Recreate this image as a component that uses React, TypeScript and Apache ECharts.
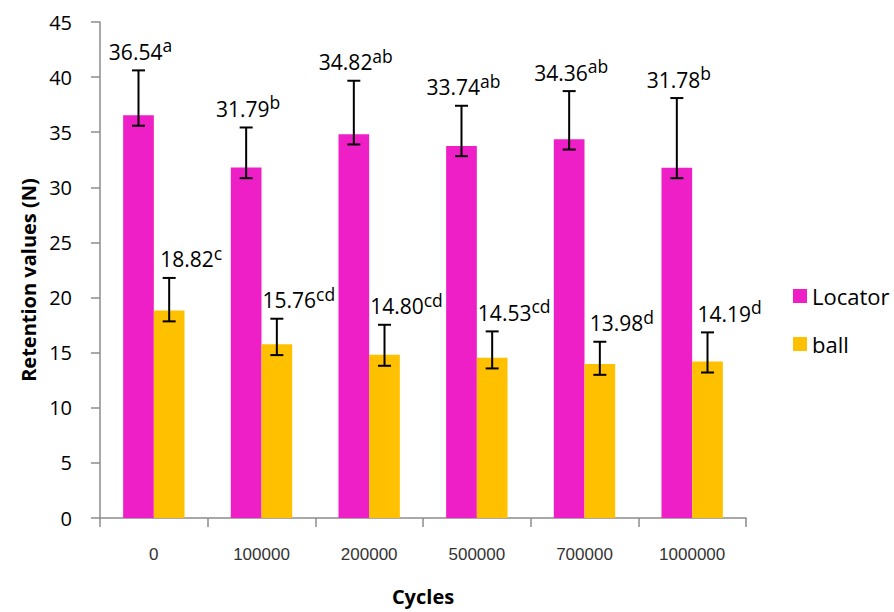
import React, { useEffect, useRef } from "react";
import * as echarts from "echarts";

const categories = ["0", "100000", "200000", "500000", "700000", "1000000"];
const locatorValues = [36.54, 31.79, 34.82, 33.74, 34.36, 31.78];
const ballValues = [18.82, 15.76, 14.8, 14.53, 13.98, 14.19];
const locatorHigh = [40.61, 35.43, 39.67, 37.4, 38.73, 38.1];
const locatorLow = [35.59, 30.83, 33.89, 32.83, 33.43, 30.83];
const ballHigh = [21.78, 18.08, 17.53, 16.93, 15.99, 16.84];
const ballLow = [17.84, 14.78, 13.81, 13.57, 12.99, 13.2];
const locatorLetters = ["a", "b", "ab", "ab", "ab", "b"];
const ballLetters = ["c", "cd", "cd", "cd", "d", "d"];
const yTicks = { min: 0, max: 45, interval: 5 };

const LOCATOR_COLOR = "#EE1FC6";
const BALL_COLOR = "#FFC000";
const BAR_FRAC = 0.285;
const LABEL_FONT = "Open Sans";

function errorSeries(
  high: number[],
  low: number[],
  values: number[],
  letters: string[],
  side: number,
  dx: number
) {
  return {
    type: "custom",
    name: "err" + side,
    z: 10,
    silent: true,
    data: categories.map((_, i) => [i, high[i], low[i], values[i], letters[i]]),
    renderItem: (params: any, api: any) => {
      const i = api.value(0);
      const top = api.coord([i, api.value(1)]);
      const bot = api.coord([i, api.value(2)]);
      const band = api.size([1, 0])[0];
      const bw = band * BAR_FRAC;
      const x = top[0] + (side * bw) / 2;
      const cap = 6.5;
      const st = { stroke: "#000", lineWidth: 2 };
      const idx = params.dataIndex;
      const txt = `{v|${values[idx].toFixed(2)}}{s|${letters[idx]}}`;
      return {
        type: "group",
        children: [
          { type: "line", shape: { x1: x, y1: top[1], x2: x, y2: bot[1] }, style: st },
          { type: "line", shape: { x1: x - cap, y1: top[1], x2: x + cap, y2: top[1] }, style: st },
          { type: "line", shape: { x1: x - cap, y1: bot[1], x2: x + cap, y2: bot[1] }, style: st },
          {
            type: "text",
            x: x + dx,
            y: top[1] - 21,
            style: {
              text: txt,
              align: "center",
              verticalAlign: "middle",
              fill: "#000",
              rich: {
                v: { fontSize: 21, fontFamily: LABEL_FONT, fill: "#000", lineHeight: 26, verticalAlign: "bottom" },
                s: { fontSize: 17.5, fontFamily: LABEL_FONT, fill: "#000", lineHeight: 4, verticalAlign: "top" },
              },
            },
          },
        ],
      };
    },
  };
}

export default function App() {
  const ref = useRef<HTMLDivElement>(null);
  useEffect(() => {
    if (!ref.current) return;
    const chart = echarts.init(ref.current, null, { renderer: "svg" });
    chart.setOption({
      animation: false,
      backgroundColor: "#fff",
      grid: { left: 100, right: 148, top: 22, bottom: 94 },
      legend: {
        data: ["Locator", "ball"],
        orient: "vertical",
        left: 788,
        top: 279,
        icon: "rect",
        itemWidth: 14,
        itemHeight: 14,
        itemGap: 24,
        textStyle: { fontFamily: LABEL_FONT, fontSize: 22, color: "#000", lineHeight: 24 },
      },
      xAxis: {
        type: "category",
        data: categories,
        name: "Cycles",
        nameLocation: "middle",
        nameGap: 68,
        nameTextStyle: { fontFamily: LABEL_FONT, fontSize: 20, fontWeight: "bold", color: "#000" },
        axisLine: { lineStyle: { color: "#8c8c8c", width: 1.5 } },
        axisTick: { show: true, length: 9, alignWithLabel: false, lineStyle: { color: "#8c8c8c", width: 1.5 } },
        axisLabel: { fontFamily: "Liberation Sans", fontSize: 17, color: "#333", margin: 28 },
      },
      yAxis: {
        type: "value",
        min: yTicks.min,
        max: yTicks.max,
        interval: yTicks.interval,
        name: "Retention values (N)",
        nameLocation: "middle",
        nameGap: 62,
        nameTextStyle: {
          fontFamily: LABEL_FONT,
          fontSize: 20,
          fontWeight: "bold",
          color: "#000",
          padding: [0, 20, 0, 0],
        },
        axisLine: { show: true, lineStyle: { color: "#8c8c8c", width: 1.5 } },
        axisTick: { show: true, length: 9, lineStyle: { color: "#8c8c8c", width: 1.5 } },
        axisLabel: { fontFamily: LABEL_FONT, fontSize: 20, color: "#000", margin: 28 },
        splitLine: { show: false },
      },
      series: [
        {
          type: "bar",
          name: "Locator",
          data: locatorValues,
          barWidth: BAR_FRAC * 100 + "%",
          barGap: "0%",
          itemStyle: { color: LOCATOR_COLOR },
        },
        {
          type: "bar",
          name: "ball",
          data: ballValues,
          barWidth: BAR_FRAC * 100 + "%",
          barGap: "0%",
          itemStyle: { color: BALL_COLOR },
        },
        errorSeries(locatorHigh, locatorLow, locatorValues, locatorLetters, -1, 2),
        errorSeries(ballHigh, ballLow, ballValues, ballLetters, 1, 22),
      ],
    });
    return () => chart.dispose();
  }, []);
  return <div ref={ref} style={{ position: "fixed", left: 0, top: 0, width: 894, height: 612 }} />;
}
